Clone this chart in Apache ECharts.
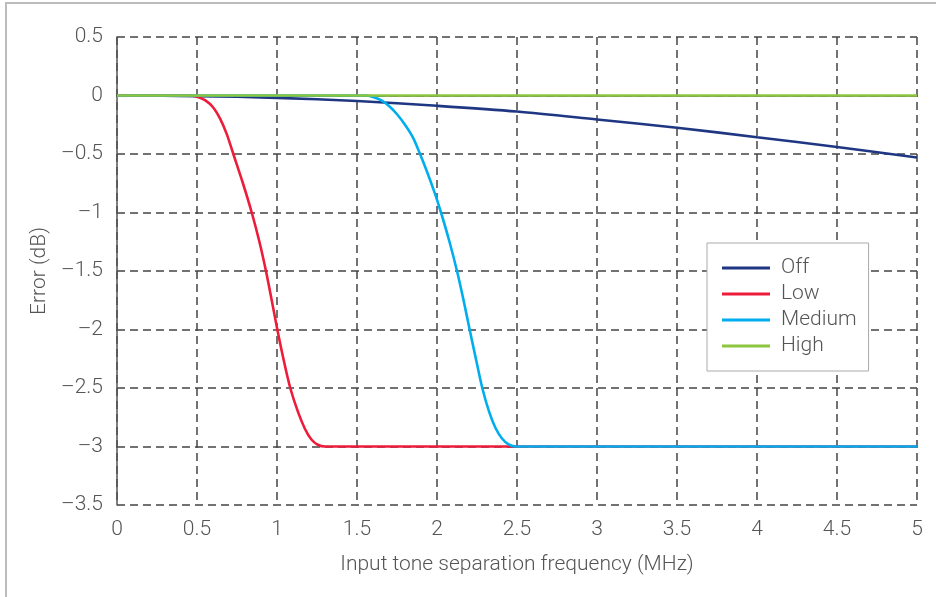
<!DOCTYPE html>
<html>
<head>
<meta charset="utf-8">
<script src="https://cdn.jsdelivr.net/npm/echarts@6/dist/echarts.min.js"></script>
<style>
html,body{margin:0;padding:0;background:#fff;}
#chart{width:936px;height:597px;}
</style>
</head>
<body>
<div id="chart"></div>
<script>
// ---- data ----
var seriesNames = ['Off', 'Low', 'Medium', 'High'];

var offFreq = [0, 0.5, 1, 1.5, 2, 2.5, 3, 3.5, 4, 4.5, 5];
var offErr  = [0, -0.005, -0.02, -0.047, -0.088, -0.137, -0.205, -0.275, -0.357, -0.44, -0.53];

var lowFreq = [0, 0.45, 0.5, 0.55, 0.6, 0.645, 0.686, 0.727, 0.787, 0.842, 0.89, 0.931, 0.967, 1.002, 1.04, 1.083, 1.13, 1.175, 1.215, 1.255, 1.3, 2.5, 5];
var lowErr  = [0, 0, -0.01, -0.04, -0.1, -0.2, -0.33, -0.5, -0.75, -1.0, -1.25, -1.5, -1.75, -2.0, -2.25, -2.5, -2.7, -2.85, -2.94, -2.985, -3, -3, -3];

var medFreq = [0, 1.55, 1.6, 1.65, 1.7, 1.75, 1.8, 1.85, 1.894, 1.94, 1.985, 2.025, 2.078, 2.125, 2.166, 2.204, 2.243, 2.283, 2.325, 2.365, 2.405, 2.445, 2.49, 5];
var medErr  = [0, 0, -0.012, -0.04, -0.09, -0.16, -0.25, -0.36, -0.5, -0.66, -0.83, -1.0, -1.25, -1.5, -1.75, -2.0, -2.25, -2.5, -2.7, -2.84, -2.93, -2.98, -3, -3];

var highFreq = [0, 5];
var highErr  = [0, 0];

var xTickValues = [0, 0.5, 1, 1.5, 2, 2.5, 3, 3.5, 4, 4.5, 5];
var xTickLabels = ['0', '0.5', '1', '1.5', '2', '2.5', '3', '3.5', '4', '4.5', '5'];
var yTickValues = [0.5, 0, -0.5, -1, -1.5, -2, -2.5, -3, -3.5];
var yTickLabels = ['0.5', '0', '\u20130.5', '\u20131', '\u20131.5', '\u20132', '\u20132.5', '\u20133', '\u20133.5'];

var xTitle = 'Input tone separation frequency (MHz)';
var yTitle = 'Error (dB)';

// ---- build ----
function pairs(xs, ys) { return xs.map(function (x, i) { return [x, ys[i]]; }); }
function lookup(vals, labels, v) {
  for (var i = 0; i < vals.length; i++) if (Math.abs(vals[i] - v) < 1e-9) return labels[i];
  return '';
}

var colors = ['#1f3783', '#ec1c3a', '#00aeef', '#8cc63f'];
var dataSets = [pairs(offFreq, offErr), pairs(lowFreq, lowErr), pairs(medFreq, medErr), pairs(highFreq, highErr)];

var FONT = 'Roboto';
var FS = 21;
var textColor = '#555555';

var chart = echarts.init(document.getElementById('chart'), null, {renderer: 'canvas'});
chart.setOption({
  animation: false,
  backgroundColor: '#ffffff',
  graphic: [{
    type: 'rect',
    shape: {x: 6, y: 3, width: 1200, height: 1200},
    style: {fill: 'none', stroke: '#bcbcbc', lineWidth: 2},
    silent: true, z: 0
  }],
  grid: {left: 117, right: 19, top: 37, bottom: 92, containLabel: false},
  xAxis: {
    type: 'value', min: 0, max: 5, interval: 0.5,
    name: xTitle, nameLocation: 'middle', nameGap: 49,
    nameTextStyle: {fontFamily: FONT, fontWeight: 300, fontSize: FS, color: textColor},
    axisLine: {show: true, lineStyle: {color: '#555', width: 1.5}},
    axisTick: {show: false},
    axisLabel: {
      fontFamily: FONT, fontWeight: 300, fontSize: FS, color: textColor, margin: 14,
      formatter: function (v) { return lookup(xTickValues, xTickLabels, v); }
    },
    splitLine: {show: true, lineStyle: {color: '#444', width: 1.5, type: [8, 5]}}
  },
  yAxis: {
    type: 'value', min: -3.5, max: 0.5, interval: 0.5,
    name: yTitle, nameLocation: 'middle', nameGap: 66, nameRotate: 90,
    nameTextStyle: {fontFamily: FONT, fontWeight: 300, fontSize: FS, color: textColor},
    axisLine: {show: true, onZero: false, lineStyle: {color: '#555', width: 1.5}},
    axisTick: {show: false},
    axisLabel: {
      fontFamily: FONT, fontWeight: 300, fontSize: FS, color: textColor, margin: 14,
      formatter: function (v) { return lookup(yTickValues, yTickLabels, v); }
    },
    splitLine: {show: true, lineStyle: {color: '#444', width: 1.5, type: [8, 5]}}
  },
  legend: {
    orient: 'vertical', left: 707, top: 243,
    padding: [14, 12, 14, 15],
    backgroundColor: '#fff', borderColor: '#aaaaaa', borderWidth: 1,
    icon: 'rect', itemWidth: 48, itemHeight: 3, itemGap: 4,
    textStyle: {fontFamily: FONT, fontWeight: 300, fontSize: FS, color: textColor, lineHeight: 22, padding: [0, 0, 0, 6]},
    data: seriesNames
  },
  series: seriesNames.map(function (n, i) {
    return {
      name: n, type: 'line', data: dataSets[i],
      symbol: 'none', smooth: 0.3,
      lineStyle: {color: colors[i], width: 2.6},
      itemStyle: {color: colors[i]},
      z: 3 + i
    };
  })
});
</script>
</body>
</html>
